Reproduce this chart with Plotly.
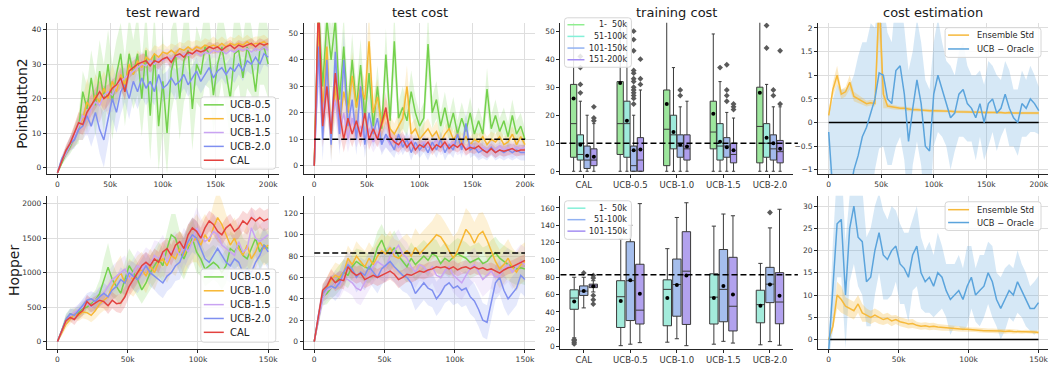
import plotly.graph_objects as go

W, H = 1049, 365

# ---------------- data ----------------
STEP_PB = 4000     # PointButton2 evaluation interval (0 - 200k)
STEP_HOP = 3000    # Hopper evaluation interval (0 - 150k)

methods = ["UCB-0.5", "UCB-1.0", "UCB-1.5", "UCB-2.0", "CAL"]

# PointButton2 - test reward (mean, std)
pb_reward_ucb05 = [-1.5, 1.5, 4, 6, 9, 11, 22, 17, 26, 18, 28, 20, 30, 19, 27, 33, 22, 33, 27, 33, 20, 34, 15, 33, 12,
                   25, 10, 28, 33, 20, 31, 34, 17, 30, 27, 35, 33, 21, 30, 35, 28, 20, 33, 34, 26, 35, 31, 22, 34, 35, 30]
pb_reward_ucb10 = [-1.5, 2, 4.5, 7, 9, 12, 14, 19, 17, 21, 19, 23, 20, 25, 22, 27, 24, 30, 27, 31, 29, 32, 31, 33, 32,
                   33.5, 33, 34, 33, 34.5, 34, 35, 34, 35, 34.5, 35.5, 35, 35.5, 35, 36, 35, 36, 35.5, 36, 35.5, 36.5,
                   35.5, 36, 36, 36.5, 35.5]
pb_reward_ucb15 = [-1.5, 2, 4, 6.5, 9, 12, 15, 14, 17, 19, 18, 21, 22, 21, 24, 25, 26, 27, 28, 29, 30, 29.5, 31, 30,
                   31.5, 31, 32, 31.5, 32.5, 32, 33, 32.5, 33, 33.5, 32.5, 33.5, 33, 34, 33.5, 34, 33, 34, 33.5, 34.5,
                   34, 34.5, 33.5, 34.5, 34, 35, 34]
pb_reward_ucb20 = [-1.5, 2.5, 4.5, 7, 8, 11, 12, 15, 12, 16, 11, 8, 14, 20, 16, 22, 24, 20, 25, 22, 26, 23, 25, 22, 27,
                   23, 24, 26, 24, 25, 27, 24, 26, 28, 25, 27, 29, 26, 28, 29, 27, 29, 28, 30, 28, 31, 30, 32, 30, 33, 32]
pb_reward_cal = [-1.5, 2, 5, 7, 10, 13, 12.5, 16, 18, 20, 22, 20, 21, 23, 24, 26, 22, 28, 29, 30, 30.5, 31, 29.5, 31,
                 30.5, 31.5, 32, 30.5, 32.5, 33, 32, 33.5, 33, 34, 33.5, 34, 35, 34.5, 35, 34, 35, 35.5, 34.5, 35.5, 35,
                 35.5, 36, 35, 36, 35.5, 36]
pb_reward_std_ucb05 = [0.5, 1, 1.5, 2, 3, 4, 6, 7, 8, 9, 9, 10, 10, 11, 10, 9, 10, 11, 10, 12, 11, 12, 13, 12, 13, 14,
                       12, 12, 11, 12, 12, 11, 12, 11, 10, 11, 10, 11, 12, 10, 11, 12, 11, 10, 11, 12, 10, 11, 10, 11, 10]
pb_reward_std_ucb10 = [0.5, 1, 1.5, 2, 3, 4, 6, 7, 5, 6, 6, 5, 5, 5, 4, 4, 4.5, 4, 3, 3, 3.5, 3, 2.5, 2.5, 3, 2.5, 2,
                       2, 2.5, 2, 2, 2, 2.5, 2, 2, 2, 2, 2.5, 2, 2, 2, 2, 2, 2.5, 2, 2, 2, 2, 2, 2, 2]
pb_reward_std_ucb15 = [0.5, 1, 1.5, 2, 2.5, 3, 4, 5, 5, 5.5, 5, 5, 5.5, 5, 5, 4, 4, 4.5, 4, 3.5, 3.5, 3, 3, 3.5, 3, 3,
                       2.5, 2.5, 3, 2.5, 2.5, 2.5, 2, 2, 2.5, 2, 2, 2, 2, 2.5, 2, 2, 2, 2, 2, 2.5, 2, 2, 2, 2, 2]
pb_reward_std_ucb20 = [0.5, 1, 1.5, 2, 2.5, 3, 4, 5, 6, 6, 7, 8, 7, 6, 6, 6.5, 5, 6, 5, 5, 5.5, 5, 5, 4, 4.5, 4, 4, 4,
                       4.5, 4, 4, 3.5, 3.5, 4, 3.5, 3.5, 3.5, 3, 3.5, 3, 3, 3, 3.5, 3, 3, 3, 3, 3.5, 3, 3, 3]
pb_reward_std_cal = [0.5, 1, 1.5, 2, 2.5, 3, 3, 3.5, 3, 3, 3, 3.5, 3, 2.5, 2.5, 3, 2.5, 2, 2, 2, 2.5, 2, 2, 2, 2, 1.5,
                     1.5, 2, 1.5, 1.5, 1.5, 1.5, 1.5, 1.5, 1.5, 1.5, 1.5, 1.5, 1.5, 1.5, 1.5, 1.5, 1.5, 1.5, 1.5, 1.5,
                     1.5, 1.5, 1.5, 1.5, 1.5]

# PointButton2 - test cost (mean, std)
pb_cost_ucb05 = [0, 60, 30, 55, 40, 55, 25, 45, 20, 40, 22, 38, 18, 35, 15, 30, 14, 42, 17, 47, 18, 22, 17, 28, 20, 15,
                 18, 46, 20, 25, 15, 22, 14, 20, 12, 18, 13, 20, 12, 17, 12, 29, 14, 19, 13, 17, 11, 19, 12, 15, 10]
pb_cost_ucb10 = [0, 55, 20, 45, 10, 30, 15, 28, 20, 34, 22, 30, 25, 47, 20, 26, 15, 20, 14, 12, 15, 18, 30, 12, 14, 10,
                 12, 14, 11, 13, 9, 12, 14, 10, 12, 9, 11, 8, 10, 9, 11, 8, 10, 9, 11, 8, 9, 12, 8, 11, 8]
pb_cost_ucb15 = [0, 40, 20, 30, 15, 25, 12, 20, 10, 18, 12, 15, 10, 14, 9, 12, 9, 11, 8, 10, 7, 9, 8, 10, 7, 8, 9, 7,
                 8, 10, 7, 8, 7, 9, 7, 8, 6.5, 8, 7, 6, 7, 6, 7, 6, 7.5, 6, 7, 6, 7, 6.5, 7]
pb_cost_ucb20 = [0, 45, 10, 40, 8, 43, 12, 40, 15, 25, 10, 30, 8, 20, 12, 18, 8, 12, 9, 6, 12, 7, 10, 5, 9, 6, 8, 5, 9,
                 6, 10, 5, 8, 6, 12, 6, 16, 6, 7, 5, 6, 5, 7, 5, 6, 5, 6, 5, 6, 5, 5]
pb_cost_cal = [0, 62, 15, 30, 12, 35, 20, 10, 18, 12, 17, 11, 20, 10, 14, 10, 16, 22, 11, 9, 8, 10, 7, 9, 6, 8, 7, 9, 6,
               8, 7, 9, 6.5, 8, 7, 8.5, 6, 7, 6.5, 7.5, 6, 5, 6.5, 5, 6, 5.5, 6, 6.5, 5.5, 6, 6]
pb_cost_std_ucb05 = [0, 15, 12, 15, 12, 14, 10, 12, 8, 10, 8, 10, 7, 9, 6, 8, 6, 10, 6, 12, 6, 8, 6, 8, 6, 5, 6, 12, 6,
                     7, 5, 6, 5, 6, 5, 6, 5, 6, 5, 5, 5, 8, 5, 6, 5, 5, 5, 6, 5, 5, 4]
pb_cost_std_ucb10 = [0, 15, 10, 12, 8, 10, 7, 9, 7, 9, 7, 8, 7, 12, 6, 7, 5, 6, 5, 4, 5, 5, 8, 4, 4, 3, 4, 4, 3, 4, 3,
                     3, 3, 3, 3, 3, 3, 3, 3, 3, 3, 3, 3, 3, 3, 3, 3, 3, 3, 3, 3]
pb_cost_std_ucb15 = [0, 12, 8, 10, 7, 8, 6, 7, 5, 6, 5, 5, 4, 5, 4, 4, 4, 4, 3, 4, 3, 3, 3, 3, 3, 3, 3, 3, 3, 3, 3, 3,
                     3, 3, 3, 3, 3, 3, 3, 3, 3, 3, 3, 3, 3, 3, 3, 3, 3, 3, 3]
pb_cost_std_ucb20 = [0, 14, 8, 12, 7, 12, 8, 11, 7, 8, 6, 9, 5, 7, 5, 6, 4, 5, 4, 3, 4, 3, 3, 3, 3, 3, 3, 3, 3, 3, 3,
                     3, 3, 3, 4, 3, 5, 3, 3, 3, 3, 3, 3, 3, 3, 3, 3, 3, 3, 3, 3]
pb_cost_std_cal = [0, 12, 8, 10, 6, 10, 7, 5, 6, 5, 5, 4, 6, 4, 4, 3, 5, 6, 3, 3, 3, 3, 2, 3, 2, 2, 2, 2, 2, 2, 2, 2,
                   2, 2, 2, 2, 2, 2, 2, 2, 2, 2, 2, 2, 2, 2, 2, 2, 2, 2, 2]
pb_cost_limit = 10

# PointButton2 - cost estimation
pb_est_ensemble = [0.15, 0.7, 1.0, 0.6, 0.65, 0.85, 0.55, 0.5, 0.45, 0.4, 0.42, 0.4, 2.6, 0.6, 0.35, 0.33, 0.32, 0.3,
                   0.3, 0.28, 0.27, 0.27, 0.26, 0.26, 0.25, 0.25, 0.25, 0.24, 0.24, 0.24, 0.23, 0.23, 0.23, 0.22, 0.22,
                   0.22, 0.22, 0.21, 0.21, 0.22, 0.21, 0.21, 0.2, 0.21, 0.2, 0.2, 0.2, 0.2, 0.2, 0.2, 0.2]
pb_est_oracle = [-0.2, -1.5, -1.2, -1.5, -1.3, -1.5, -1.0, -0.7, -0.3, -0.1, 0.2, 0.5, 1.05, 1.0, 0.5, 0.4, 1.1, 1.2,
                 0.6, -0.4, 0.3, 0.9, 0.4, -0.5, -0.6, 0.6, 1.0, 0.7, 0.4, 0.1, 0.2, 0.6, 0.7, 0.4, 0.3, 0.1, 0.4, 0.0,
                 0.4, 0.5, 0.2, 0.3, 0.6, 0.3, 0.1, 0.0, 0.4, 0.3, 0.5, 0.4, 0.25]
pb_est_std_ensemble = [0.05, 0.15, 0.2, 0.1, 0.1, 0.15, 0.1, 0.08, 0.07, 0.06, 0.06, 0.06, 0.8, 0.3, 0.05, 0.05, 0.05,
                       0.04, 0.04, 0.04, 0.04, 0.04, 0.03, 0.03, 0.03, 0.03, 0.03, 0.03, 0.03, 0.03, 0.03, 0.03, 0.03,
                       0.03, 0.03, 0.03, 0.03, 0.03, 0.03, 0.03, 0.03, 0.03, 0.03, 0.03, 0.03, 0.03, 0.03, 0.03, 0.03,
                       0.03, 0.03]
pb_est_std_oracle = [0.4, 2, 2, 2.2, 2, 2.3, 2, 2.1, 2, 1.8, 1.9, 1.5, 1.6, 1.5, 1.4, 1.3, 1.6, 1.5, 1.4, 1.5, 1.2,
                     1.3, 1.3, 1.4, 1.3, 1.1, 1.2, 1.0, 0.9, 1.1, 0.8, 0.9, 1.0, 0.8, 0.7, 0.9, 0.7, 0.8, 0.9, 0.7, 0.8,
                     0.6, 0.7, 0.8, 0.6, 0.7, 0.7, 0.6, 0.7, 0.6, 0.5]

# Hopper - test reward (mean, std)
hop_reward_ucb05 = [0, 150, 320, 400, 400, 420, 480, 500, 550, 600, 700, 900, 1080, 900, 800, 700, 900, 1100, 1000, 900,
                    750, 850, 1000, 1100, 1200, 1100, 1350, 1550, 1500, 1300, 1200, 1350, 1500, 1300, 1200, 1050, 1100,
                    1150, 1100, 1000, 1100, 1350, 1300, 1400, 1250, 1200, 1350, 1500, 1300, 1400, 1350]
hop_reward_ucb10 = [0, 120, 250, 320, 400, 380, 430, 420, 380, 450, 550, 600, 650, 800, 900, 1000, 850, 950, 900, 1000,
                    1050, 950, 1100, 1000, 1150, 1200, 1100, 1250, 1200, 1350, 1250, 1400, 1450, 1500, 1400, 1550, 1450,
                    1650, 1800, 1700, 1550, 1400, 1500, 1350, 1250, 1400, 1200, 1300, 1450, 1350, 1400]
hop_reward_ucb15 = [0, 160, 300, 380, 420, 450, 500, 560, 500, 600, 650, 700, 800, 900, 950, 1000, 1050, 900, 1000,
                    1100, 1050, 1150, 1100, 1250, 1200, 1300, 1150, 1300, 1350, 1250, 1400, 1300, 1450, 1650, 1550, 1450,
                    1500, 1600, 1550, 1400, 1350, 1300, 1250, 1450, 1300, 1350, 1650, 1500, 1450, 1500, 1550]
hop_reward_ucb20 = [0, 150, 320, 400, 380, 450, 520, 600, 620, 580, 650, 700, 650, 750, 800, 900, 850, 1000, 950, 900,
                    1000, 1100, 1000, 950, 900, 850, 950, 1000, 1100, 1150, 1300, 1450, 1550, 1500, 1350, 1200, 1150,
                    1250, 1350, 1250, 1150, 1100, 1200, 1150, 1000, 1050, 1000, 1150, 1250, 1400, 1300]
hop_reward_cal = [0, 150, 300, 350, 320, 400, 450, 580, 520, 560, 600, 580, 520, 600, 550, 560, 650, 800, 900, 1000,
                  1100, 1150, 1100, 1200, 1150, 1300, 1350, 1250, 1400, 1450, 1350, 1550, 1650, 1600, 1500, 1650, 1750,
                  1700, 1600, 1550, 1650, 1700, 1600, 1650, 1750, 1700, 1800, 1750, 1800, 1750, 1780]
hop_reward_std_ucb05 = [0, 40, 80, 80, 80, 90, 100, 100, 120, 150, 200, 300, 350, 250, 200, 200, 250, 250, 250, 250,
                        200, 200, 250, 250, 250, 250, 250, 300, 350, 300, 300, 300, 300, 300, 250, 250, 250, 250, 250,
                        250, 250, 250, 250, 300, 250, 250, 250, 250, 250, 250, 250]
hop_reward_std_ucb10 = [0, 40, 60, 60, 80, 80, 90, 100, 100, 120, 150, 150, 200, 200, 250, 250, 200, 250, 250, 250,
                        250, 250, 250, 250, 250, 250, 250, 250, 250, 250, 300, 300, 300, 350, 350, 300, 300, 350, 400,
                        350, 300, 300, 300, 300, 300, 300, 300, 250, 250, 250, 250]
hop_reward_std_ucb15 = [0, 40, 70, 80, 80, 90, 100, 100, 120, 130, 150, 150, 200, 200, 200, 200, 200, 200, 200, 220,
                        220, 220, 220, 220, 250, 250, 250, 250, 250, 250, 250, 250, 300, 300, 250, 250, 250, 250, 250,
                        250, 250, 250, 300, 300, 250, 250, 300, 300, 250, 250, 250]
hop_reward_std_ucb20 = [0, 40, 70, 80, 80, 90, 100, 100, 110, 120, 130, 150, 150, 150, 150, 180, 180, 180, 200, 200,
                        200, 200, 200, 200, 220, 220, 220, 220, 220, 250, 250, 250, 250, 250, 250, 250, 250, 250, 250,
                        250, 250, 250, 250, 250, 250, 250, 250, 250, 250, 250, 250]
hop_reward_std_cal = [0, 40, 60, 60, 80, 80, 80, 100, 100, 100, 100, 100, 120, 120, 120, 150, 150, 150, 150, 150, 150,
                      150, 150, 150, 150, 150, 150, 150, 150, 150, 150, 150, 150, 150, 150, 150, 150, 150, 150, 150, 150,
                      150, 150, 150, 150, 150, 150, 150, 150, 150, 150]

# Hopper - test cost (mean, std)
hop_cost_ucb05 = [0, 20, 42, 45, 50, 55, 60, 65, 62, 70, 75, 72, 70, 68, 75, 88, 95, 85, 82, 88, 80, 75, 70, 78, 72,
                  76, 80, 76, 82, 80, 73, 78, 75, 79, 82, 80, 78, 74, 76, 78, 73, 75, 80, 83, 78, 75, 72, 70, 68, 69, 68]
hop_cost_ucb10 = [0, 22, 45, 50, 58, 62, 60, 65, 78, 72, 80, 75, 70, 78, 72, 80, 85, 82, 88, 80, 78, 82, 85, 80, 88,
                  82, 86, 90, 95, 100, 98, 92, 85, 78, 85, 95, 105, 100, 92, 100, 103, 95, 85, 75, 68, 72, 78, 70, 65,
                  72, 75]
hop_cost_ucb15 = [0, 20, 40, 48, 50, 55, 52, 60, 58, 55, 50, 48, 55, 62, 70, 75, 72, 70, 80, 85, 90, 82, 78, 70, 65,
                  72, 70, 65, 70, 62, 60, 66, 70, 62, 58, 55, 62, 68, 72, 65, 58, 62, 66, 60, 62, 68, 72, 65, 70, 75, 72]
hop_cost_ucb20 = [0, 25, 45, 50, 52, 50, 55, 65, 72, 68, 60, 65, 62, 70, 65, 60, 68, 72, 75, 70, 66, 62, 60, 55, 45,
                  50, 55, 50, 48, 40, 45, 52, 55, 50, 52, 48, 50, 42, 38, 30, 20, 18, 35, 55, 60, 48, 40, 45, 50, 62, 58]
hop_cost_cal = [0, 25, 48, 52, 60, 55, 58, 57, 70, 65, 62, 64, 58, 60, 62, 60, 62, 64, 66, 63, 58, 60, 63, 62, 64, 66,
                65, 67, 68, 70, 69, 70, 68, 70, 67, 69, 70, 68, 70, 68, 69, 67, 68, 66, 64, 67, 69, 70, 72, 74, 76]
hop_cost_std_ucb05 = [0, 5, 8, 10, 10, 12, 12, 12, 12, 12, 12, 14, 14, 14, 15, 15, 15, 16, 16, 16, 16, 15, 15, 15, 15,
                      15, 15, 15, 15, 15, 15, 15, 15, 15, 15, 15, 15, 15, 15, 15, 15, 15, 15, 15, 15, 15, 15, 15, 15,
                      15, 15]
hop_cost_std_ucb10 = [0, 5, 8, 10, 10, 12, 12, 12, 12, 12, 14, 14, 15, 15, 15, 15, 16, 16, 16, 16, 16, 16, 16, 16, 18,
                      18, 18, 18, 18, 20, 20, 20, 20, 20, 18, 18, 20, 20, 20, 20, 18, 18, 18, 18, 18, 18, 18, 18, 18,
                      18, 18]
hop_cost_std_ucb15 = [0, 5, 8, 10, 10, 12, 12, 12, 12, 12, 14, 14, 14, 14, 15, 15, 15, 15, 15, 15, 15, 15, 15, 15, 15,
                      15, 15, 15, 15, 16, 16, 16, 16, 16, 16, 16, 16, 16, 16, 16, 16, 16, 16, 16, 16, 16, 16, 16, 16,
                      16, 16]
hop_cost_std_ucb20 = [0, 5, 8, 10, 10, 12, 12, 12, 12, 12, 14, 14, 14, 14, 15, 15, 15, 15, 15, 15, 15, 15, 15, 15, 16,
                      16, 16, 16, 16, 16, 16, 16, 16, 16, 16, 16, 16, 16, 16, 16, 16, 16, 16, 16, 16, 16, 16, 16, 16,
                      16, 16]
hop_cost_std_cal = [0, 5, 6, 8, 8, 8, 8, 8, 8, 8, 8, 8, 8, 8, 8, 8, 8, 8, 8, 8, 8, 7, 7, 7, 7, 7, 7, 7, 7, 6, 6, 6, 6,
                    6, 6, 6, 6, 6, 6, 6, 6, 6, 6, 6, 6, 6, 6, 6, 6, 6, 6]
hop_cost_limit = 83

# Hopper - cost estimation
hop_est_ensemble = [0, 3, 10, 9, 7.5, 7, 6.5, 8, 6, 5.5, 5, 5.5, 5, 4.5, 4.8, 4.2, 4.5, 4, 3.8, 3.5, 3.6, 3.2, 3.0,
                    3.1, 2.9, 3.0, 2.8, 2.7, 2.6, 2.5, 2.5, 2.4, 2.3, 2.3, 2.2, 2.2, 2.1, 2.0, 2.0, 2.0, 1.9, 1.9, 1.8,
                    1.9, 1.8, 1.8, 1.7, 1.8, 1.7, 1.7, 1.6]
hop_est_oracle = [-2.5, 12, 26, 27, 10, 25, 30, 23, 22, 13, 14, 20, 24, 19, 18, 20, 21, 17, 16, 14, 19, 21, 15, 13, 14,
                  12, 15, 14, 11, 9, 10, 11, 9, 12, 14, 10, 11, 12, 15, 13, 9, 7, 9, 11, 10, 13, 11, 9, 7, 7, 8.3]
hop_est_std_ensemble = [0, 1, 3, 3, 2, 2, 2, 2, 2, 1.5, 1.5, 1.5, 1.5, 1.2, 1.2, 1.2, 1, 1, 1, 1, 1, 0.8, 0.8, 0.8,
                        0.8, 0.8, 0.7, 0.7, 0.7, 0.6, 0.6, 0.6, 0.6, 0.5, 0.5, 0.5, 0.5, 0.5, 0.5, 0.5, 0.5, 0.5, 0.5,
                        0.5, 0.5, 0.4, 0.4, 0.4, 0.4, 0.4, 0.4]
hop_est_std_oracle = [2, 10, 12, 13, 12, 12, 13, 11, 12, 10, 11, 10, 9, 10, 9, 10, 8, 9, 8, 10, 8, 9, 8, 7, 8, 7, 9, 7,
                      6, 8, 7, 8, 7, 9, 7, 6, 8, 7, 7, 8, 6, 7, 7, 6, 6, 7, 6, 6, 5, 6, 6]

# Training-cost box statistics, one list per evaluation window (ordered by box_categories)
box_categories = ["CAL", "UCB-0.5", "UCB-1.0", "UCB-1.5", "UCB-2.0"]
pb_windows = ["1-\u00a0\u00a050k", "51-100k", "101-150k", "151-200k"]
pb_box_lo = [[0, 0, 0, 0, 0], [0, 0, 0, 0, 0], [0, 0, 0, 0, 0], [0, 0, 0, 0, 0]]
pb_box_q1 = [[5, 6, 2, 8, 3], [4, 5, 8, 4, 5], [1, 0, 5, 5, 4], [2, 0, 4, 3, 3]]
pb_box_med = [[17, 17, 15, 14, 16], [6, 17, 13, 9, 10], [4, 2, 9, 9, 8], [4, 4, 8, 6, 7]]
pb_box_q3 = [[31, 32, 29, 25, 30], [13, 25, 20, 17, 17], [9, 9, 13, 12, 13], [8, 12, 13, 10, 11]]
pb_box_hi = [[70, 70, 70, 49, 70], [25, 70, 37, 32, 31], [20, 20, 23, 21, 23], [17, 29, 25, 19, 23]]
pb_box_mean = [[26, 31.5, 24, 20.5, 28], [9.5, 18, 14, 10.5, 12], [5.5, 7.5, 9.5, 8.6, 10], [5.2, 7.8, 8.8, 7.5, 8]]
pb_box_out = [
    [[], [], [], [], []],
    [[28, 31, 37, 41], [], [], [37], [44, 52]],
    [[], [24, 26, 27, 28, 29, 30, 32, 33, 35, 36, 43, 47, 50], [27, 29], [25, 27, 29, 38], [27, 29]],
    [[18, 19, 23], [31, 33, 40], [], [22, 23, 24], [24, 43]],
]

hop_windows = ["1-\u00a0\u00a050k", "51-100k", "101-150k"]
hop_box_lo = [[10, 1, 5, 2.7, 2], [44.6, 2.7, 9, 6, 5.7], [63, 4.5, 1, 4, 1.5]]
hop_box_q1 = [[43, 22, 24, 26, 27.4], [59, 30, 35, 28.6, 50.7], [68, 26, 25.5, 18, 26.3]]
hop_box_med = [[56, 57.5, 66, 57, 48.4], [64, 76, 71.6, 66, 72], [70, 42, 87, 46.5, 51.4]]
hop_box_q3 = [[65.5, 76, 77, 84, 65], [70, 121, 101, 112, 91.4], [72, 95, 132.6, 103, 85.3]]
hop_box_hi = [[80, 124, 113, 139, 96], [80, 140, 149, 153, 137], [76, 165, 166, 151, 158.5]]
hop_box_mean = [[52, 52.5, 56, 56, 47], [64, 76.5, 71, 70, 71.6], [69.7, 61, 82, 60, 58.7]]
hop_box_out = [
    [[3, 5, 7, 8], [], [], [], []],
    [[85], [], [], [], [154.7]],
    [[49, 54, 59, 79, 82], [], [], [], []],
]

# ---------------- styling ----------------
FONT = "DejaVu Sans"
method_colors = ["#74d14c", "#f7b733", "#c9a3f2", "#7f8ff0", "#e3423f"]
EST_ENS = "#f6b93b"
EST_ORC = "#5ba4dc"
est_names = ["Ensemble Std", "UCB \u2212 Oracle"]
pb_box_fill = ["#9de69d", "#9eeadb", "#a3baec", "#ae9ded"]
pb_box_leg = ["#8fee8f", "#84f0d8", "#92b2f2", "#a48ef2"]
hop_box_fill = ["#a3ebdb", "#a5beec", "#b2a2ee"]
hop_box_leg = ["#84f0d8", "#92b2f2", "#a48ef2"]
AX_COLOR = "#262626"
TXT = "#262626"
GRID = "#dedede"


def rgba(hex_color, a):
    h = hex_color.lstrip("#")
    r, g, b = int(h[0:2], 16), int(h[2:4], 16), int(h[4:6], 16)
    return f"rgba({r},{g},{b},{a})"


fig = go.Figure()


def add_band(step, mean, std, color, xa, ya, alpha=0.2):
    xs = [i * step for i in range(len(mean))]
    upper = [m + s for m, s in zip(mean, std)]
    lower = [m - s for m, s in zip(mean, std)]
    fig.add_trace(go.Scatter(x=xs + xs[::-1], y=upper + lower[::-1], fill="toself",
                             fillcolor=rgba(color, alpha), line=dict(width=0), mode="lines",
                             hoverinfo="skip", showlegend=False, xaxis=xa, yaxis=ya))


def add_line(step, mean, color, name, xa, ya, width=1.5):
    xs = [i * step for i in range(len(mean))]
    fig.add_trace(go.Scatter(x=xs, y=mean, mode="lines", line=dict(color=color, width=width),
                             name=name, showlegend=False, xaxis=xa, yaxis=ya))


def method_panel(step, means, stds, xa, ya):
    for m, s, c in zip(means, stds, method_colors):
        add_band(step, m, s, c, xa, ya)
    for m, c, n in zip(means, method_colors, methods):
        add_line(step, m, c, n, xa, ya)


def limit_line(step, n, value, xa, ya):
    fig.add_trace(go.Scatter(x=[0, step * (n - 1)], y=[value, value], mode="lines",
                             line=dict(color="black", width=1.5, dash="6px,3px"), showlegend=False,
                             hoverinfo="skip", xaxis=xa, yaxis=ya))


# test reward
method_panel(STEP_PB, [pb_reward_ucb05, pb_reward_ucb10, pb_reward_ucb15, pb_reward_ucb20, pb_reward_cal],
             [pb_reward_std_ucb05, pb_reward_std_ucb10, pb_reward_std_ucb15, pb_reward_std_ucb20, pb_reward_std_cal],
             "x", "y")
method_panel(STEP_HOP, [hop_reward_ucb05, hop_reward_ucb10, hop_reward_ucb15, hop_reward_ucb20, hop_reward_cal],
             [hop_reward_std_ucb05, hop_reward_std_ucb10, hop_reward_std_ucb15, hop_reward_std_ucb20,
              hop_reward_std_cal], "x5", "y5")

# test cost
method_panel(STEP_PB, [pb_cost_ucb05, pb_cost_ucb10, pb_cost_ucb15, pb_cost_ucb20, pb_cost_cal],
             [pb_cost_std_ucb05, pb_cost_std_ucb10, pb_cost_std_ucb15, pb_cost_std_ucb20, pb_cost_std_cal],
             "x2", "y2")
limit_line(STEP_PB, len(pb_cost_cal), pb_cost_limit, "x2", "y2")
method_panel(STEP_HOP, [hop_cost_ucb05, hop_cost_ucb10, hop_cost_ucb15, hop_cost_ucb20, hop_cost_cal],
             [hop_cost_std_ucb05, hop_cost_std_ucb10, hop_cost_std_ucb15, hop_cost_std_ucb20, hop_cost_std_cal],
             "x6", "y6")
limit_line(STEP_HOP, len(hop_cost_cal), hop_cost_limit, "x6", "y6")


# cost estimation
def estimation_panel(step, ens, ens_std, orc, orc_std, xa, ya):
    add_band(step, orc, orc_std, EST_ORC, xa, ya, alpha=0.25)
    add_band(step, ens, ens_std, EST_ENS, xa, ya, alpha=0.3)
    fig.add_trace(go.Scatter(x=[0, step * (len(ens) - 1)], y=[0, 0], mode="lines",
                             line=dict(color="black", width=1.5), showlegend=False, hoverinfo="skip",
                             xaxis=xa, yaxis=ya))
    add_line(step, ens, EST_ENS, est_names[0], xa, ya)
    add_line(step, orc, EST_ORC, est_names[1], xa, ya)


estimation_panel(STEP_PB, pb_est_ensemble, pb_est_std_ensemble, pb_est_oracle, pb_est_std_oracle, "x4", "y4")
estimation_panel(STEP_HOP, hop_est_ensemble, hop_est_std_ensemble, hop_est_oracle, hop_est_std_oracle, "x8", "y8")


# training cost boxes
def box_panel(windows, lo, q1, med, q3, hi, mean, out, fills, width, offsets, xa, ya):
    for w, label in enumerate(windows):
        pos = [i + offsets[w] for i in range(len(box_categories))]
        fig.add_trace(go.Box(x=pos, lowerfence=lo[w], q1=q1[w], median=med[w], q3=q3[w], upperfence=hi[w],
                             width=width, whiskerwidth=0.5, fillcolor=fills[w], name=label,
                             line=dict(color="#3a3a3a", width=1), boxpoints=False, showlegend=False,
                             hoverinfo="skip", xaxis=xa, yaxis=ya))
    for w, label in enumerate(windows):
        pos = [i + offsets[w] for i in range(len(box_categories))]
        fig.add_trace(go.Scatter(x=pos, y=mean[w], mode="markers",
                                 marker=dict(symbol="circle", size=4, color="black"),
                                 showlegend=False, hoverinfo="skip", xaxis=xa, yaxis=ya))
        ox, oy = [], []
        for i, vals in enumerate(out[w]):
            ox += [i + offsets[w]] * len(vals)
            oy += vals
        fig.add_trace(go.Scatter(x=ox, y=oy, mode="markers",
                                 marker=dict(symbol="diamond", size=4.5, color="#5a5a5a"),
                                 showlegend=False, hoverinfo="skip", xaxis=xa, yaxis=ya))


box_panel(pb_windows, pb_box_lo, pb_box_q1, pb_box_med, pb_box_q3, pb_box_hi, pb_box_mean, pb_box_out,
          pb_box_fill, 0.135, [-0.2175, -0.0725, 0.0725, 0.2175], "x3", "y3")
box_panel(hop_windows, hop_box_lo, hop_box_q1, hop_box_med, hop_box_q3, hop_box_hi, hop_box_mean, hop_box_out,
          hop_box_fill, 0.18, [-0.205, 0.0, 0.205], "x7", "y7")

for yv, xref, yref in [(pb_cost_limit, "x3", "y3"), (hop_cost_limit, "x7", "y7")]:
    fig.add_shape(type="line", xref=f"{xref} domain", yref=yref, x0=0, x1=1.02, y0=yv, y1=yv,
                  line=dict(color="black", width=1.5, dash="6px,3px"))

# ---------------- legends (matplotlib-style frames) ----------------
annotations = []


def px(x):
    return x / W


def py(y):
    return 1 - y / H


def legend_frame(x0, y0, x1, y1, r=3):
    a0, a1 = px(x0), px(x1)
    b0, b1 = py(y0), py(y1)
    rx, ry = r / W, r / H
    path = (f"M{a0 + rx},{b0} L{a1 - rx},{b0} Q{a1},{b0} {a1},{b0 - ry} "
            f"L{a1},{b1 + ry} Q{a1},{b1} {a1 - rx},{b1} L{a0 + rx},{b1} Q{a0},{b1} {a0},{b1 + ry} "
            f"L{a0},{b0 - ry} Q{a0},{b0} {a0 + rx},{b0} Z")
    fig.add_shape(type="path", path=path, xref="paper", yref="paper", layer="above",
                  fillcolor="rgba(255,255,255,0.85)", line=dict(color="#d6d6d6", width=1))


def legend_entries(labels, colors, x_line0, x_line1, y_first, dy, text_x, size, anchor="left"):
    for k, (lab, col) in enumerate(zip(labels, colors)):
        y = y_first + k * dy
        fig.add_shape(type="line", xref="paper", yref="paper", layer="above",
                      x0=px(x_line0), x1=px(x_line1), y0=py(y), y1=py(y), line=dict(color=col, width=1.5))
        annotations.append(dict(text=lab, x=px(text_x), y=py(y), xref="paper", yref="paper", showarrow=False,
                                xanchor=anchor, yanchor="middle", font=dict(family=FONT, size=size, color=TXT)))


# test reward legends
legend_frame(201, 98, 276, 171)
legend_entries(methods, method_colors, 204, 224, 106, 14, 228, 10)
legend_frame(201, 272, 276, 346)
legend_entries(methods, method_colors, 204, 224, 280, 14, 228, 10)
# training cost legends
legend_frame(565, 18, 632, 68)
legend_entries(pb_windows, pb_box_leg, 568, 585, 25, 11.8, 629.5, 8, anchor="right")
legend_frame(565, 203, 632, 242)
legend_entries(hop_windows, hop_box_leg, 568, 586, 210.5, 11.6, 629.5, 8, anchor="right")
# cost estimation legends
legend_frame(946, 28, 1042, 58)
legend_entries(est_names, [EST_ENS, EST_ORC], 949, 970, 35.5, 14, 976, 8.3)
legend_frame(946, 204, 1042, 233)
legend_entries(est_names, [EST_ENS, EST_ORC], 949, 970, 212, 13, 976, 8.3)

# ---------------- layout ----------------
col_px = [(47, 279), (304, 536), (561, 794), (819, 1049)]
row_px = [(23, 176), (198, 353)]


def dom_x(c):
    return [col_px[c][0] / W, min(col_px[c][1] / W, 1.0)]


def dom_y(r):
    return [1 - row_px[r][1] / H, 1 - row_px[r][0] / H]


tickfont = dict(family=FONT, size=7.5, color="#333333")
k_ticks_pb = dict(tickvals=[0, 50000, 100000, 150000, 200000], ticktext=["0", "50k", "100k", "150k", "200k"])
k_ticks_hop = dict(tickvals=[0, 50000, 100000, 150000], ticktext=["0", "50k", "100k", "150k"])

axis_common = dict(showline=True, linecolor=AX_COLOR, linewidth=1.25, ticks="outside", ticklen=3,
                   tickcolor=AX_COLOR, tickwidth=1, tickfont=tickfont, zeroline=False, mirror=False)

# panel index -> (row, col, x-range, y-range, y-ticks, grid)
panels = {
    1: (0, 0, [-10000, 210000], [-1.9, 42.0], [0, 10, 20, 30, 40], True),
    2: (0, 1, [-10000, 210000], [-3.1, 54.0], [0, 10, 20, 30, 40, 50], True),
    3: (0, 2, [-0.5, 4.5], [-1.0, 53.0], [0, 10, 20, 30, 40, 50], False),
    4: (0, 3, [-10000, 208800], [-1.09, 2.11], [-1, -0.5, 0, 0.5, 1, 1.5, 2], True),
    5: (1, 0, [-7500, 157500], [-110, 2115], [0, 500, 1000, 1500, 2000], True),
    6: (1, 1, [-7500, 157500], [-7.1, 136.4], [0, 20, 40, 60, 80, 100, 120], True),
    7: (1, 2, [-0.5, 4.5], [-3, 174], [0, 20, 40, 60, 80, 100, 120, 140, 160], False),
    8: (1, 3, [-7500, 156800], [-2.15, 32.3], [0, 5, 10, 15, 20, 25, 30], True),
}

layout = dict(width=W, height=H, margin=dict(l=0, r=0, t=0, b=0), paper_bgcolor="white",
              plot_bgcolor="white", font=dict(family=FONT, color=TXT), showlegend=False)

for idx, (r, c, xr, yr, yt, grid) in panels.items():
    xname = "xaxis" if idx == 1 else f"xaxis{idx}"
    yname = "yaxis" if idx == 1 else f"yaxis{idx}"
    xa = dict(axis_common, domain=dom_x(c), range=xr, anchor="y" if idx == 1 else f"y{idx}",
              showgrid=grid, gridcolor=GRID, gridwidth=1, ticklabeloverflow="allow")
    if c == 2:
        xa.update(tickvals=list(range(len(box_categories))), ticktext=box_categories,
                  tickfont=dict(family=FONT, size=8.5, color="#333333"))
    else:
        xa.update(k_ticks_pb if r == 0 else k_ticks_hop)
    ya = dict(axis_common, domain=dom_y(r), range=yr, anchor="x" if idx == 1 else f"x{idx}",
              tickvals=yt, showgrid=grid, gridcolor=GRID, gridwidth=1)
    layout[xname] = xa
    layout[yname] = ya

titles = [("test reward", 163), ("test cost", 420), ("training cost", 677), ("cost estimation", 934)]
for t, xp in titles:
    annotations.append(dict(text=t, x=px(xp), y=py(13), xref="paper", yref="paper", showarrow=False,
                            font=dict(family=FONT, size=13, color="#1a1a1a"), xanchor="center", yanchor="middle"))
annotations.append(dict(text="PointButton2", x=px(22), y=py(104), xref="paper", yref="paper",
                        showarrow=False, textangle=-90, font=dict(family=FONT, size=14, color="#1a1a1a"),
                        xanchor="center", yanchor="middle"))
annotations.append(dict(text="Hopper", x=px(14), y=py(273), xref="paper", yref="paper",
                        showarrow=False, textangle=-90, font=dict(family=FONT, size=14, color="#1a1a1a"),
                        xanchor="center", yanchor="middle"))
layout["annotations"] = annotations

fig.update_layout(**layout)
fig.write_html("out.html")
